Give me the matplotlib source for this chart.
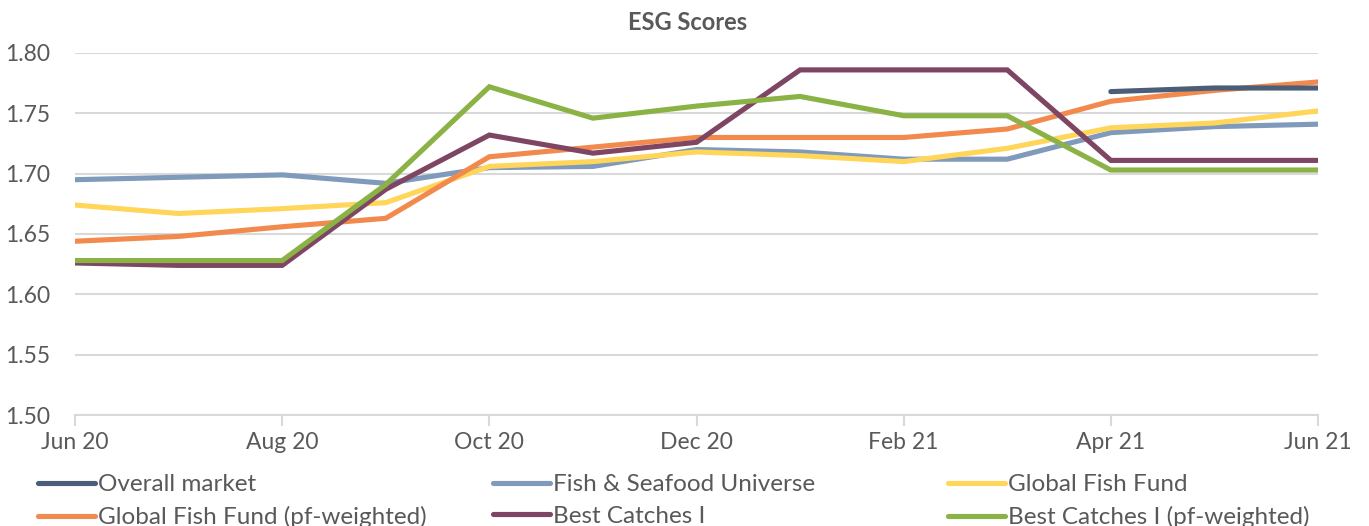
import numpy as np
import matplotlib.pyplot as plt
from matplotlib.lines import Line2D

# monthly ESG scores, Jun 20 .. Jun 21
months = ["Jun 20", "Jul 20", "Aug 20", "Sep 20", "Oct 20", "Nov 20", "Dec 20",
          "Jan 21", "Feb 21", "Mar 21", "Apr 21", "May 21", "Jun 21"]
tick_labels = ["Jun 20", "Aug 20", "Oct 20", "Dec 20", "Feb 21", "Apr 21", "Jun 21"]

nan = np.nan
overall_market = [nan, nan, nan, nan, nan, nan, nan, nan, nan, nan, 1.768, 1.771, 1.771]
fish_universe = [1.695, 1.697, 1.699, 1.692, 1.705, 1.706, 1.720, 1.718, 1.712, 1.712, 1.734, 1.739, 1.741]
global_fund = [1.674, 1.667, 1.671, 1.676, 1.706, 1.710, 1.718, 1.715, 1.710, 1.721, 1.738, 1.742, 1.752]
global_fund_pf = [1.644, 1.648, 1.656, 1.663, 1.714, 1.722, 1.730, 1.730, 1.730, 1.737, 1.760, 1.769, 1.776]
best_catches = [1.626, 1.624, 1.624, 1.687, 1.732, 1.717, 1.726, 1.786, 1.786, 1.786, 1.711, 1.711, 1.711]
best_catches_pf = [1.628, 1.628, 1.628, 1.691, 1.772, 1.746, 1.756, 1.764, 1.748, 1.748, 1.703, 1.703, 1.703]

series = [
    ("Overall market", overall_market, "#4a5e78"),
    ("Fish & Seafood Universe", fish_universe, "#7f9aba"),
    ("Global Fish Fund", global_fund, "#ffd55a"),
    ("Global Fish Fund (pf-weighted)", global_fund_pf, "#f28a4e"),
    ("Best Catches I", best_catches, "#7f4663"),
    ("Best Catches I (pf-weighted)", best_catches_pf, "#8ab245"),
]

plt.rcParams['font.family'] = ['Lato', 'DejaVu Sans']
text_col = "#595959"

fig = plt.figure(figsize=(13.69, 5.26), dpi=100)
ax = fig.add_axes([75/1369, 1 - 415/526, (1318 - 75)/1369, (415 - 53)/526])

x = np.arange(len(months))
# overall market drawn last so it sits on top
for name, vals, col in series[1:] + series[:1]:
    ax.plot(x, vals, color=col, lw=3.7, solid_capstyle='round', solid_joinstyle='miter')

ax.set_xlim(0, 12)
ax.set_ylim(1.50, 1.80)
ax.set_yticks(np.arange(1.50, 1.801, 0.05))
ax.set_yticklabels([f"{v:.2f}" for v in np.arange(1.50, 1.801, 0.05)])
ax.set_xticks(x[::2])
ax.set_xticklabels(tick_labels)
ax.grid(axis='y', color="#d9d9d9", lw=1.5)
ax.set_axisbelow(True)
for s in ["left", "right", "top"]:
    ax.spines[s].set_visible(False)
ax.spines["bottom"].set_color("#d9d9d9")
ax.spines["bottom"].set_linewidth(1.5)
ax.tick_params(axis='x', length=8, width=1.5, color="#d9d9d9", labelsize=16.5, labelcolor=text_col, pad=4)
ax.tick_params(axis='y', length=0, labelsize=16.5, labelcolor=text_col, pad=18)

fig.text(688/1369, 1 - 22/526, "ESG Scores", ha='center', va='center',
         fontsize=17, fontweight='bold', color=text_col)

# legend: three columns of two entries each
col_x = [38/1369, 493/1369, 948/1369]
for i, cx in enumerate(col_x):
    handles = [Line2D([], [], color=series[i][2], lw=3.7, solid_capstyle='round'),
               Line2D([], [], color=series[i + 3][2], lw=3.7, solid_capstyle='round')]
    labels = [series[i][0], series[i + 3][0]]
    fig.legend(handles, labels, loc='upper left', bbox_to_anchor=(cx, 1 - 474/526),
               frameon=False, fontsize=17.5, labelcolor=text_col, handlelength=2.35,
               handletextpad=0.1, labelspacing=0.45, borderpad=0, borderaxespad=0)

fig.savefig("out.png", dpi=100)
